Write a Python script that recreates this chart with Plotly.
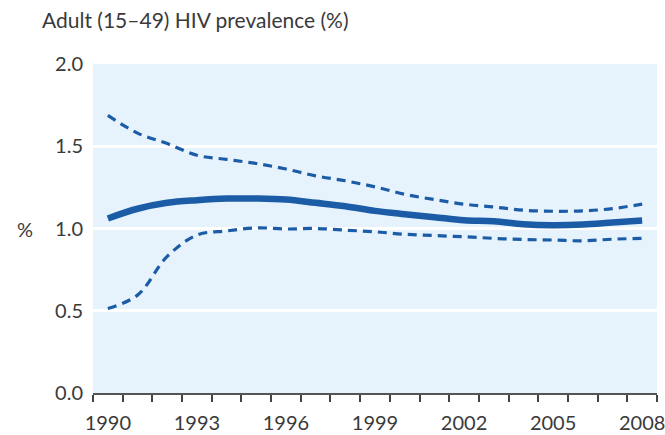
import plotly.graph_objects as go

years = list(range(1990, 2009))
central = [1.061, 1.12, 1.156, 1.172, 1.182, 1.182, 1.176, 1.156, 1.135, 1.107,
           1.087, 1.069, 1.05, 1.044, 1.026, 1.02, 1.024, 1.036, 1.048]
upper = [1.688, 1.58, 1.516, 1.445, 1.42, 1.395, 1.362, 1.32, 1.29, 1.253,
         1.208, 1.176, 1.148, 1.131, 1.111, 1.105, 1.107, 1.121, 1.148]
lower = [0.514, 0.595, 0.83, 0.96, 0.985, 1.004, 0.997, 1.0, 0.99, 0.98,
         0.965, 0.957, 0.95, 0.94, 0.933, 0.93, 0.925, 0.935, 0.94]
x_tick_years = [1990, 1993, 1996, 1999, 2002, 2005, 2008]
y_ticks = [0, 0.5, 1.0, 1.5, 2.0]
y_tick_text = ["0.0", "0.5", "1.0", "1.5", "2.0"]

blue = "#1c5ca6"
fig = go.Figure()
for band in (upper, lower):
    fig.add_trace(go.Scatter(x=years, y=band, mode="lines",
                             line=dict(color=blue, width=3.2, dash="9px,6px", shape="spline"),
                             hoverinfo="skip"))
fig.add_trace(go.Scatter(x=years, y=central, mode="lines",
                         line=dict(color=blue, width=6.5, shape="spline"),
                         hoverinfo="skip"))

font = "Lato, 'Open Sans', sans-serif"
txt = "#3a3a3a"
fig.update_layout(
    width=665, height=435,
    margin=dict(l=93, r=8, t=64, b=42),
    paper_bgcolor="white",
    plot_bgcolor="#e6f3fd",
    showlegend=False,
    hovermode=False,
    font=dict(family=font, size=20, color=txt),
    title=dict(text="Adult (15\u201349) HIV prevalence (%)", x=42 / 665, xanchor="left",
               y=1 - 21 / 435, yanchor="middle", font=dict(family=font, size=21, color=txt)),
    xaxis=dict(range=[1989.5, 2008.5], tickvals=x_tick_years, automargin=False,
               ticklabeloverflow="allow",
               ticks="outside", ticklen=11, tickcolor="rgba(0,0,0,0)",
               showgrid=False, zeroline=False, showline=True, linecolor="#555555", linewidth=1.8,
               minor=dict(tickmode="linear", tick0=1989.5, dtick=1, ticks="outside",
                          ticklen=7, tickcolor="#444444", tickwidth=1.5, showgrid=False),
               tickfont=dict(size=20, color=txt)),
    yaxis=dict(range=[0, 2.0], tickvals=y_ticks, ticktext=y_tick_text, automargin=False,
               ticklabeloverflow="allow",
               showgrid=True, gridcolor="white", gridwidth=2.5, zeroline=False,
               showline=False, ticks="", ticklabelstandoff=9,
               tickfont=dict(size=20, color=txt)),
    annotations=[dict(text="%", xref="paper", yref="y", x=-0.12, y=1.0,
                      showarrow=False, xanchor="center", yanchor="middle",
                      font=dict(family=font, size=20, color=txt))],
)

fig.write_html("out.html", config={"displayModeBar": False},
               post_script="document.body.style.margin='0';document.body.style.overflow='hidden';")
